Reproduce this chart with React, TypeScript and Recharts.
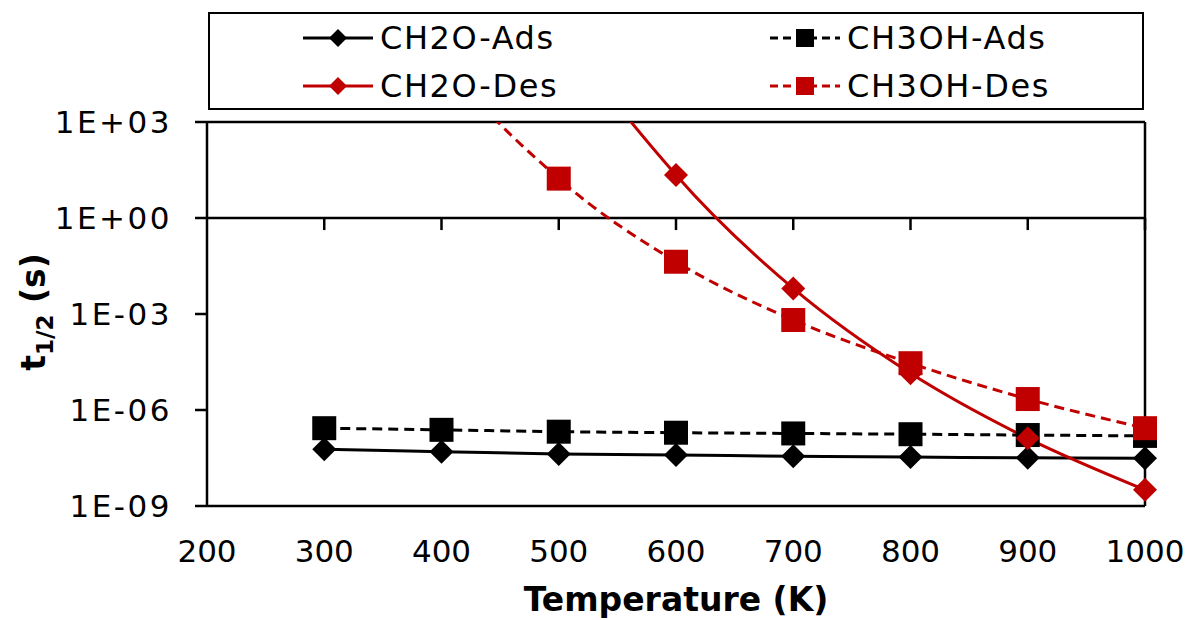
import { LineChart, Line, XAxis, YAxis, Legend, ReferenceLine } from 'recharts'

// temperatures (K)
const temps = [300, 400, 500, 600, 700, 800, 900, 1000]

// half-life t1/2 (s)
const ch2oAds = [5.9e-8, 5.0e-8, 4.2e-8, 3.9e-8, 3.6e-8, 3.4e-8, 3.2e-8, 3.1e-8]
const ch3ohAds = [2.7e-7, 2.4e-7, 2.1e-7, 1.95e-7, 1.85e-7, 1.75e-7, 1.65e-7, 1.55e-7]
// Des values at low T are off the top of the plot (estimated)
const ch2oDes = [6e25, 3e13, 1.6e6, 22, 6.3e-3, 1.4e-5, 1.3e-7, 3.2e-9]
const ch3ohDes = [4e11, 1.3e5, 17, 4.3e-2, 6.5e-4, 2.9e-5, 2.2e-6, 2.7e-7]

const xTicks = [200, 300, 400, 500, 600, 700, 800, 900, 1000]
const yTicks = [1e-9, 1e-6, 1e-3, 1, 1e3]

const data = temps.map((t, i) => ({
  t,
  ch2oAds: ch2oAds[i],
  ch3ohAds: ch3ohAds[i],
  ch2oDes: ch2oDes[i],
  ch3ohDes: ch3ohDes[i],
}))

const RED = '#c00000'
const FONT = '"DejaVu Sans", Verdana, sans-serif'

const series = [
  { key: 'ch2oAds', name: 'CH2O-Ads', color: '#000', dash: undefined, shape: 'diamond' },
  { key: 'ch3ohAds', name: 'CH3OH-Ads', color: '#000', dash: '10 6', shape: 'square' },
  { key: 'ch2oDes', name: 'CH2O-Des', color: RED, dash: undefined, shape: 'diamond' },
  { key: 'ch3ohDes', name: 'CH3OH-Des', color: RED, dash: '10 6', shape: 'square' },
]

const fmtExp = (v: number) => {
  const e = Math.round(Math.log10(v))
  const sign = e < 0 ? '-' : '+'
  return `1E${sign}${String(Math.abs(e)).padStart(2, '0')}`
}

const Marker = ({ cx, cy, shape, color, size }: any) => {
  if (shape === 'diamond') {
    return <path d={`M${cx},${cy - size}L${cx + size},${cy}L${cx},${cy + size}L${cx - size},${cy}Z`} fill={color} />
  }
  return <rect x={cx - size} y={cy - size} width={size * 2} height={size * 2} fill={color} />
}

const makeDot = (shape: string, color: string) => (props: any) => {
  const { cx, cy, value, index } = props
  if (value == null || value > 1e3 || value < 1e-9) return <g key={index} />
  return <Marker key={index} cx={cx} cy={cy} shape={shape} color={color} size={12} />
}

const renderLegend = () => (
  <div
    style={{
      boxSizing: 'border-box',
      width: 936,
      height: 98,
      border: '2px solid #000',
      background: '#fff',
      display: 'grid',
      gridTemplateColumns: '467px 467px',
      gridAutoRows: '48px',
      paddingLeft: 93,
      paddingTop: 0,
    }}
  >
    {series.map(s => (
      <div key={s.key} style={{ display: 'flex', alignItems: 'center' }}>
        <svg width={72} height={30}>
          <line x1={0} y1={15} x2={70} y2={15} stroke={s.color} strokeWidth={3} strokeDasharray={s.dash ? '8 5' : undefined} />
          <Marker cx={35} cy={15} shape={s.shape} color={s.color} size={9} />
        </svg>
        <span style={{ marginLeft: 5, fontSize: 32, letterSpacing: 1.6, fontFamily: FONT, color: '#000', lineHeight: 1 }}>{s.name}</span>
      </div>
    ))}
  </div>
)

const YLabel = ({ viewBox }: any) => {
  const x = viewBox.x - 25
  const y = 312
  return (
    <text transform={`rotate(-90, ${x}, ${y})`} x={x} y={y} textAnchor="middle" fontFamily={FONT} fontWeight="bold" fontSize={33} fill="#000">
      <tspan>t</tspan>
      <tspan fontSize={23} dy={8}>1/2</tspan>
      <tspan dy={-8}> (s)</tspan>
    </text>
  )
}

const XLabel = ({ viewBox }: any) => (
  <text x={viewBox.x + viewBox.width / 2} y={viewBox.y + 105} textAnchor="middle" fontFamily={FONT} fontWeight="bold" fontSize={33} fill="#000">
    Temperature (K)
  </text>
)

export default function App() {
  return (
    <div style={{ position: 'absolute', left: 0, top: 0, width: 1194, height: 620, background: '#fff' }}>
      <LineChart width={1194} height={620} data={data} margin={{ top: 122, right: 49, left: 70, bottom: 54 }}>
        <XAxis
          dataKey="t"
          type="number"
          domain={[200, 1000]}
          ticks={xTicks}
          axisLine={{ stroke: '#000', strokeWidth: 2.5 }}
          tickLine={false}
          tickSize={0}
          tickMargin={34}
          height={60}
          tick={{ fill: '#000', fontSize: 31, fontFamily: FONT }}
          label={XLabel}
        />
        <YAxis
          scale="log"
          domain={[1e-9, 1e3]}
          allowDataOverflow
          ticks={yTicks}
          tickFormatter={fmtExp}
          width={137}
          axisLine={{ stroke: '#000', strokeWidth: 2.5 }}
          tickLine={{ stroke: '#000', strokeWidth: 2.5 }}
          tickSize={12}
          tickMargin={23}
          tick={{ fill: '#000', fontSize: 31, fontFamily: FONT, letterSpacing: 2.5 }}
          label={YLabel}
        />
        {/* plot frame: top and right */}
        <ReferenceLine y={1e3} stroke="#000" strokeWidth={2.5} />
        <ReferenceLine x={1000} stroke="#000" strokeWidth={2.5} />
        {/* horizontal axis crosses at 1 */}
        <ReferenceLine y={1} stroke="#000" strokeWidth={2.5} />
        {temps.map(t => (
          <ReferenceLine key={t} segment={[{ x: t, y: 1 }, { x: t, y: 0.42 }]} stroke="#000" strokeWidth={2.5} />
        ))}
        <Legend verticalAlign="middle" align="center" layout="horizontal" content={renderLegend} wrapperStyle={{ left: 208, top: 12, width: 936, height: 98 }} />
        {series.map(s => (
          <Line
            key={s.key}
            dataKey={s.key}
            name={s.name}
            type="monotone"
            stroke={s.color}
            strokeWidth={3}
            strokeDasharray={s.dash}
            dot={makeDot(s.shape, s.color)}
            activeDot={false}
            isAnimationActive={false}
          />
        ))}
      </LineChart>
    </div>
  )
}
